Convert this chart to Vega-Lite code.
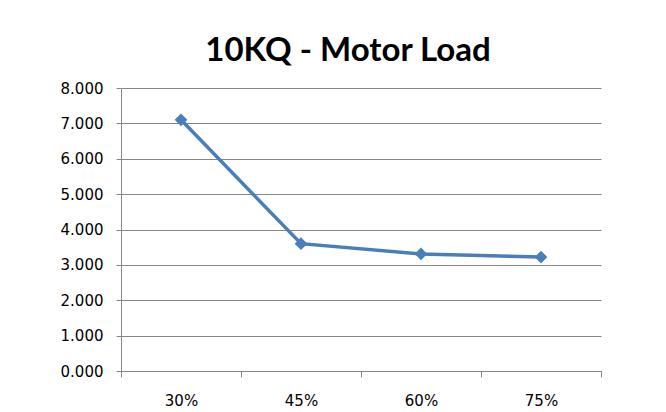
{
  "$schema": "https://vega.github.io/schema/vega-lite/v6.json",
  "width": 480,
  "height": 283,
  "autosize": {"type": "none"},
  "padding": {"left": 121, "top": 88, "right": 65, "bottom": 41},
  "background": "white",
  "config": {
    "view": {"stroke": null},
    "font": "DejaVu Sans"
  },
  "title": {
    "text": "10KQ - Motor Load",
    "font": "Lato",
    "fontSize": 33,
    "fontWeight": "bold",
    "color": "#000000",
    "anchor": "middle",
    "frame": "group",
    "dx": -13,
    "dy": 30,
    "baseline": "alphabetic",
    "offset": 17
  },
  "data": {
    "values": [
      {"load": "30%", "value": 7.10},
      {"load": "45%", "value": 3.60},
      {"load": "60%", "value": 3.31},
      {"load": "75%", "value": 3.22}
    ]
  },
  "encoding": {
    "x": {
      "field": "load",
      "type": "ordinal",
      "sort": null,
      "scale": {"paddingInner": 0, "paddingOuter": 0},
      "axis": {
        "title": null,
        "labelAngle": 0,
        "labelFont": "DejaVu Sans",
        "labelFontSize": 15,
        "labelColor": "#000000",
        "labelPadding": 16,
        "tickBand": "extent",
        "tickSize": 6,
        "tickColor": "#868686",
        "domainColor": "#868686",
        "grid": false
      }
    },
    "y": {
      "field": "value",
      "type": "quantitative",
      "scale": {"domain": [0, 8], "nice": false, "zero": true},
      "axis": {
        "title": null,
        "values": [0, 1, 2, 3, 4, 5, 6, 7, 8],
        "format": ".3f",
        "labelFont": "DejaVu Sans",
        "labelFontSize": 15,
        "labelColor": "#000000",
        "labelPadding": 13,
        "tickSize": 5,
        "tickColor": "#868686",
        "domainColor": "#868686",
        "grid": true,
        "gridColor": "#868686",
        "gridWidth": 1
      }
    }
  },
  "layer": [
    {
      "mark": {"type": "line", "color": "#4A7EBB", "strokeWidth": 3.5}
    },
    {
      "mark": {"type": "point", "shape": "diamond", "filled": true, "size": 160, "color": "#4A7EBB", "opacity": 1}
    }
  ]
}
